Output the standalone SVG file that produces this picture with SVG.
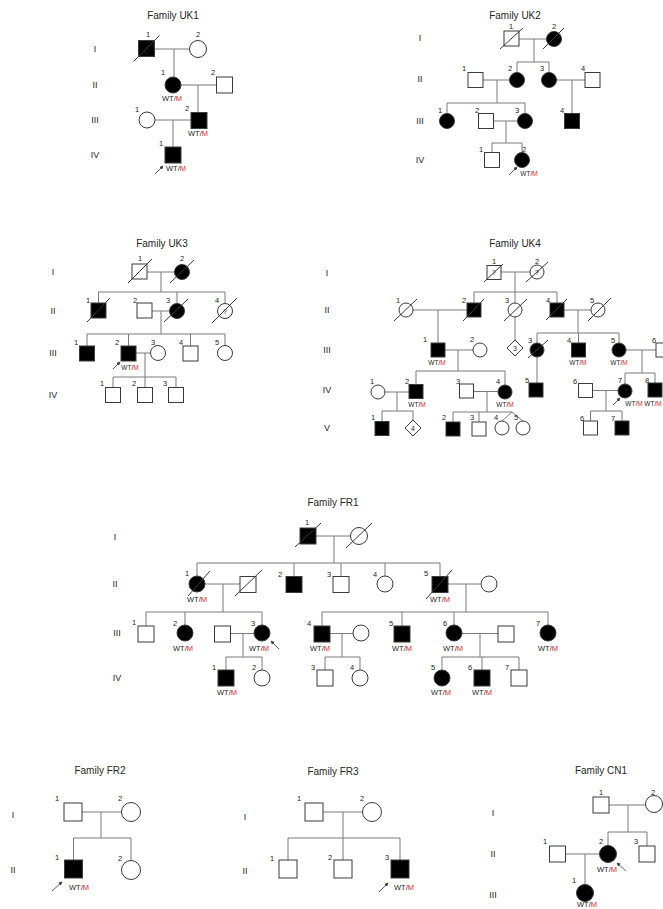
<svg xmlns="http://www.w3.org/2000/svg" width="663" height="909" viewBox="0 0 663 909">
<style>
text{font-family:"Liberation Sans",Arial,sans-serif;text-anchor:middle;dominant-baseline:central;fill:#262626}
.t{font-size:10px}
.g{font-size:9px}
.n{font-size:7.5px}
.w{font-size:7.5px}
.w2{font-size:6.5px}
.q{font-size:7px}
.r{fill:#e3261f}
.u{fill:#fff;stroke:#3a3a3a;stroke-width:1}
.a{fill:#000;stroke:#3a3a3a;stroke-width:1}
.d{stroke:#3a3a3a;stroke-width:1}
.c path{fill:none;stroke:#7a7a7a;stroke-width:1}
.p{stroke:#3a3a3a;stroke-width:0.8;marker-end:url(#ah)}
</style>
<defs>
<marker id="ah" viewBox="0 0 6 6" refX="5" refY="3" markerWidth="4" markerHeight="4" orient="auto" markerUnits="userSpaceOnUse">
<path d="M0,0 L6,3 L0,6 z" fill="#3a3a3a"/>
</marker>
</defs>
<rect width="663" height="909" fill="#fff"/>

<!-- Titles and generation labels -->
<g id="titles">
<text class="t" x="173" y="15">Family UK1</text>
<text class="t" x="515" y="15">Family UK2</text>
<text class="t" x="162" y="243">Family UK3</text>
<text class="t" x="515" y="243">Family UK4</text>
<text class="t" x="333" y="502">Family FR1</text>
<text class="t" x="100" y="770">Family FR2</text>
<text class="t" x="333" y="771">Family FR3</text>
<text class="t" x="601" y="770">Family CN1</text>
</g>
<g id="generations">
<text class="g" x="95" y="49">I</text><text class="g" x="95" y="85">II</text><text class="g" x="95" y="120">III</text><text class="g" x="95" y="155">IV</text>
<text class="g" x="420" y="38">I</text><text class="g" x="420" y="79">II</text><text class="g" x="420" y="121">III</text><text class="g" x="420" y="160">IV</text>
<text class="g" x="53" y="272">I</text><text class="g" x="53" y="311">II</text><text class="g" x="53" y="353">III</text><text class="g" x="53" y="395">IV</text>
<text class="g" x="327" y="273">I</text><text class="g" x="327" y="310">II</text><text class="g" x="327" y="350">III</text><text class="g" x="327" y="390">IV</text><text class="g" x="327" y="428">V</text>
<text class="g" x="115" y="537">I</text><text class="g" x="115" y="584">II</text><text class="g" x="117" y="633">III</text><text class="g" x="117" y="678">IV</text>
<text class="g" x="13" y="815">I</text><text class="g" x="13" y="870">II</text>
<text class="g" x="245" y="817">I</text><text class="g" x="245" y="871">II</text>
<text class="g" x="493" y="813">I</text><text class="g" x="493" y="854">II</text><text class="g" x="493" y="895">III</text>
</g>

<!-- Connectors -->
<g id="connectors" class="c">
<!-- UK1 -->
<path d="M154.5,49 H189.5 M174,49 V77 M181,85 H216.5 M198,85 V112.5 M155,120 H191 M173,120 V147"/>
<!-- UK2 -->
<path d="M519,39 H546.5 M534,39 V62 M517,62 H549 M517,62 V72.5 M549,62 V72.5 M483,80 H509.5 M497,80 V103 M447,103 H525 M447,103 V113.5 M525,103 V113.5 M556.5,80 H585 M572,80 V113.5 M493.5,121 H517.5 M506,121 V143 M492,143 H522 M492,143 V152.5 M522,143 V152.5"/>
<!-- UK3 -->
<path d="M147,272 H174.5 M161,272 V292 M98.5,292 H225 M98.5,292 V303 M177,292 V303.5 M225,292 V303.5 M152,311 H169.5 M161,311 V334 M87,334 H225 M87,334 V346 M128.5,334 V346 M190.5,334 V346 M225,334 V345.5 M136,353 H150.5 M145,353 V377 M113,377 H176 M113,377 V387.5 M145,377 V387.5 M176,377 V387.5"/>
<!-- UK4 -->
<path d="M501,272 H530 M515,272 V292 M474,292 H557 M474,292 V303 M515,292 V303 M557,292 V303 M413,310 H467 M438,310 V343 M515,317 V340 M564,310 H591 M578,310 V333 M537,333 H619 M537,333 V343 M578.5,333 V343 M619,333 V343 M445,350 H473 M458,350 V371 M416,371 H505 M416,371 V384.5 M505,371 V385 M385,392 H409 M397,392 V411 M382,411 H413 M382,411 V421.5 M413,411 V420 M473.5,391.5 H498 M487,392 V412 M453,412 H512 M453,412 V422 M479,412 V422 M512,412 L502,421 M512,412 L523,421 M537,357 V383 M626,350 H656 M642,350 V373 M625,373 H655 M625,373 V384 M655,373 V383 M592.5,390.5 H618 M606,390.5 V411 M590.5,411 H622 M590.5,411 V421 M622,411 V421"/>
<!-- FR1 -->
<path d="M316,536 H350.5 M334,536 V563 M197,563 H440 M197,563 V576 M294,563 V576.5 M341,563 V576.5 M385,563 V576 M440,563 V576.5 M205,584 H240 M223,584 V612 M146,612 H262 M146,612 V626 M185,612 V625 M262,612 V625 M230.5,633.5 H254 M243,633.5 V657 M226,657 H262 M226,657 V670 M262,657 V670 M448,584 H480.5 M466,584 V612 M322,612 H548 M322,612 V626 M402,612 V626 M454,612 V625 M548,612 V625 M330,633.5 H353 M342,633.5 V657 M325,657 H360 M325,657 V670 M360,657 V670 M462,633.5 H498 M480,633.5 V657 M442,657 H519 M442,657 V670 M482,657 V670 M519,657 V670"/>
<!-- FR2 -->
<path d="M82,812 H121.5 M101,812 V838 M73.5,838 H131 M73.5,838 V860 M131,838 V860.5"/>
<!-- FR3 -->
<path d="M323,812 H362.5 M343,812 V838 M288,838 H400 M288,838 V860 M343,838 V860 M400,838 V860"/>
<!-- CN1 -->
<path d="M609,805 H645.5 M628,805 V832 M608,832 H647 M608,832 V845.5 M647,832 V846 M566,854 H599.5 M585,854 V884.5"/>
</g>

<!-- ===== UK1 ===== -->
<g id="uk1-I-1"><rect class="a" x="138.5" y="40.5" width="16" height="16"/><line class="d" x1="133.5" y1="61.5" x2="159.5" y2="35.5"/><text class="n" x="148" y="34">1</text></g>
<g id="uk1-I-2"><circle class="u" cx="198" cy="49" r="8.5"/><text class="n" x="198" y="34">2</text></g>
<g id="uk1-II-1"><circle class="a" cx="173" cy="85" r="8"/><text class="n" x="163" y="72">1</text><text class="w" x="172" y="98">WT/<tspan class="r">M</tspan></text></g>
<g id="uk1-II-2"><rect class="u" x="216.5" y="77" width="16" height="16"/><text class="n" x="213" y="72">2</text></g>
<g id="uk1-III-1"><circle class="u" cx="147" cy="120" r="8"/><text class="n" x="137" y="109">1</text></g>
<g id="uk1-III-2"><rect class="a" x="191" y="112.5" width="16" height="16"/><text class="n" x="187" y="108">2</text><text class="w" x="198" y="133">WT/<tspan class="r">M</tspan></text></g>
<g id="uk1-IV-1"><rect class="a" x="165" y="147" width="16" height="16"/><text class="n" x="161" y="143">1</text><text class="w" x="176" y="168">WT/<tspan class="r">M</tspan></text><line class="p" x1="155" y1="174" x2="163" y2="166"/></g>

<!-- ===== UK2 ===== -->
<g id="uk2-I-1"><rect class="u" x="504" y="31" width="15" height="15"/><line class="d" x1="500" y1="49" x2="523" y2="28"/><text class="n" x="511" y="26">1</text></g>
<g id="uk2-I-2"><circle class="a" cx="554" cy="39" r="7.5"/><line class="d" x1="543" y1="49" x2="564" y2="28"/><text class="n" x="554" y="26">2</text></g>
<g id="uk2-II-1"><rect class="u" x="468" y="72.5" width="15" height="15"/><text class="n" x="464" y="68">1</text></g>
<g id="uk2-II-2"><circle class="a" cx="517" cy="80" r="7.5"/><text class="n" x="510" y="68">2</text></g>
<g id="uk2-II-3"><circle class="a" cx="549" cy="80" r="7.5"/><text class="n" x="542" y="68">3</text></g>
<g id="uk2-II-4"><rect class="u" x="585" y="72.5" width="15" height="15"/><text class="n" x="583" y="68">4</text></g>
<g id="uk2-III-1"><circle class="a" cx="447" cy="121" r="7.5"/><text class="n" x="440" y="110">1</text></g>
<g id="uk2-III-2"><rect class="u" x="478.5" y="113.5" width="15" height="15"/><text class="n" x="477" y="110">2</text></g>
<g id="uk2-III-3"><circle class="a" cx="525" cy="121" r="7.5"/><text class="n" x="517" y="110">3</text></g>
<g id="uk2-III-4"><rect class="a" x="564.5" y="113.5" width="15" height="15"/><text class="n" x="562" y="110">4</text></g>
<g id="uk2-IV-1"><rect class="u" x="484.5" y="152.5" width="15" height="15"/><text class="n" x="481" y="149">1</text></g>
<g id="uk2-IV-2"><circle class="a" cx="522" cy="160" r="7.5"/><text class="n" x="524" y="149">2</text><text class="w2" x="529" y="173">WT/<tspan class="r">M</tspan></text><line class="p" x1="509" y1="175" x2="517" y2="167"/></g>

<!-- ===== UK3 ===== -->
<g id="uk3-I-1"><rect class="u" x="132" y="264" width="15" height="15"/><line class="d" x1="128" y1="283" x2="152" y2="259"/><text class="n" x="140" y="258">1</text></g>
<g id="uk3-I-2"><circle class="a" cx="182" cy="272" r="7.5"/><line class="d" x1="170" y1="283" x2="194" y2="260"/><text class="n" x="182" y="258">2</text></g>
<g id="uk3-II-1"><rect class="a" x="91" y="303" width="15" height="15"/><line class="d" x1="87" y1="322" x2="110" y2="298"/><text class="n" x="88" y="300">1</text></g>
<g id="uk3-II-2"><rect class="u" x="137" y="303" width="15" height="15"/><text class="n" x="135" y="300">2</text></g>
<g id="uk3-II-3"><circle class="a" cx="177" cy="311" r="7.5"/><line class="d" x1="164" y1="322" x2="188" y2="299"/><text class="n" x="168" y="300">3</text></g>
<g id="uk3-II-4"><circle class="u" cx="225" cy="311" r="7.5"/><text class="q" x="225" y="311">?</text><line class="d" x1="212" y1="323" x2="237" y2="298"/><text class="n" x="217" y="300">4</text></g>
<g id="uk3-III-1"><rect class="a" x="79.5" y="346" width="15" height="15"/><text class="n" x="76" y="342">1</text></g>
<g id="uk3-III-2"><rect class="a" x="121" y="346" width="15" height="15"/><text class="n" x="117" y="342">2</text><text class="w2" x="130" y="367">WT/<tspan class="r">M</tspan></text><line class="p" x1="113" y1="369" x2="120" y2="362"/></g>
<g id="uk3-III-3"><circle class="u" cx="158" cy="353" r="7.5"/><text class="n" x="153" y="342">3</text></g>
<g id="uk3-III-4"><rect class="u" x="183" y="346" width="15" height="15"/><text class="n" x="181" y="342">4</text></g>
<g id="uk3-III-5"><circle class="u" cx="225" cy="353" r="7.5"/><text class="n" x="217" y="342">5</text></g>
<g id="uk3-IV-1"><rect class="u" x="105.5" y="387.5" width="15" height="15"/><text class="n" x="102" y="383">1</text></g>
<g id="uk3-IV-2"><rect class="u" x="137.5" y="387.5" width="15" height="15"/><text class="n" x="134" y="383">2</text></g>
<g id="uk3-IV-3"><rect class="u" x="168.5" y="387.5" width="15" height="15"/><text class="n" x="165" y="383">3</text></g>

<!-- ===== UK4 ===== -->
<g id="uk4-I-1"><rect class="u" x="487" y="265.5" width="14" height="14"/><text class="q" x="494" y="272.5">?</text><line class="d" x1="484" y1="282" x2="503" y2="264"/><text class="n" x="494" y="261">1</text></g>
<g id="uk4-I-2"><circle class="u" cx="537" cy="272" r="7"/><text class="q" x="537" y="272">?</text><line class="d" x1="526" y1="282" x2="548" y2="262"/><text class="n" x="537" y="261">2</text></g>
<g id="uk4-II-1"><circle class="u" cx="406" cy="310" r="7"/><line class="d" x1="394" y1="321" x2="417" y2="299"/><text class="n" x="398" y="300">1</text></g>
<g id="uk4-II-2"><rect class="a" x="467" y="303" width="14" height="14"/><line class="d" x1="463" y1="321" x2="484" y2="299"/><text class="n" x="464" y="300">2</text></g>
<g id="uk4-II-3"><circle class="u" cx="515" cy="310" r="7"/><line class="d" x1="504" y1="321" x2="527" y2="299"/><text class="n" x="507" y="300">3</text></g>
<g id="uk4-II-4"><rect class="a" x="550" y="303" width="14" height="14"/><line class="d" x1="546" y1="320" x2="567" y2="299"/><text class="n" x="548" y="300">4</text></g>
<g id="uk4-II-5"><circle class="u" cx="598" cy="310" r="7"/><line class="d" x1="588" y1="321" x2="611" y2="298"/><text class="n" x="592" y="300">5</text></g>
<g id="uk4-III-3d"><polygon class="u" points="515,340 523,348 515,356 507,348"/><text class="q" x="515" y="348">3</text></g>
<g id="uk4-III-1"><rect class="a" x="431" y="343" width="14" height="14"/><text class="n" x="425" y="339">1</text><text class="w2" x="437" y="362">WT/<tspan class="r">M</tspan></text></g>
<g id="uk4-III-2"><circle class="u" cx="480" cy="350" r="7"/><text class="n" x="472" y="339">2</text></g>
<g id="uk4-III-3"><circle class="a" cx="537" cy="350" r="7"/><line class="d" x1="528" y1="358" x2="548" y2="340"/><text class="n" x="530" y="340">3</text></g>
<g id="uk4-III-4"><rect class="a" x="571.5" y="343" width="14" height="14"/><text class="n" x="569" y="340">4</text><text class="w2" x="578" y="362">WT/<tspan class="r">M</tspan></text></g>
<g id="uk4-III-5"><circle class="a" cx="619" cy="350" r="7"/><text class="n" x="613" y="340">5</text><text class="w2" x="619" y="362">WT/<tspan class="r">M</tspan></text></g>
<g id="uk4-III-6"><rect class="u" x="656" y="343" width="14" height="14"/><text class="n" x="654" y="340">6</text></g>
<g id="uk4-IV-1"><circle class="u" cx="378" cy="392" r="7"/><text class="n" x="372" y="381">1</text></g>
<g id="uk4-IV-2"><rect class="a" x="409" y="384.5" width="14" height="14"/><text class="n" x="407" y="381">2</text><text class="w2" x="417" y="404">WT/<tspan class="r">M</tspan></text></g>
<g id="uk4-IV-3"><rect class="u" x="459.5" y="384" width="14" height="14"/><text class="n" x="458" y="381">3</text></g>
<g id="uk4-IV-4"><circle class="a" cx="505" cy="392" r="7"/><text class="n" x="498" y="381">4</text><text class="w2" x="505" y="404">WT/<tspan class="r">M</tspan></text></g>
<g id="uk4-IV-5"><rect class="a" x="529" y="383" width="14" height="14"/><text class="n" x="527" y="380">5</text></g>
<g id="uk4-IV-6"><rect class="u" x="578.5" y="383.5" width="14" height="14"/><text class="n" x="575" y="381">6</text></g>
<g id="uk4-IV-7"><circle class="a" cx="625" cy="391" r="7"/><text class="n" x="620" y="380">7</text><text class="w2" x="634" y="403">WT/<tspan class="r">M</tspan></text><line class="p" x1="613" y1="405" x2="620" y2="398"/></g>
<g id="uk4-IV-8"><rect class="a" x="648" y="383" width="14" height="14"/><text class="n" x="647" y="380">8</text><text class="w2" x="653" y="403">WT/<tspan class="r">M</tspan></text></g>
<g id="uk4-V-1"><rect class="a" x="375" y="421.5" width="14" height="14"/><text class="n" x="373" y="417">1</text></g>
<g id="uk4-V-4d"><polygon class="u" points="413,420 421,428 413,436 405,428"/><text class="q" x="413" y="428">4</text></g>
<g id="uk4-V-2"><rect class="a" x="446" y="422" width="14" height="14"/><text class="n" x="444" y="417">2</text></g>
<g id="uk4-V-3"><rect class="u" x="472" y="422" width="14" height="14"/><text class="n" x="472" y="417">3</text></g>
<g id="uk4-V-4"><circle class="u" cx="502" cy="428" r="7"/><text class="n" x="496" y="417">4</text></g>
<g id="uk4-V-5"><circle class="u" cx="523" cy="428" r="7"/><text class="n" x="516" y="417">5</text></g>
<g id="uk4-V-6"><rect class="u" x="583.5" y="421" width="14" height="14"/><text class="n" x="582" y="418">6</text></g>
<g id="uk4-V-7"><rect class="a" x="615" y="421" width="14" height="14"/><text class="n" x="613" y="418">7</text></g>

<!-- ===== FR1 ===== -->
<g id="fr1-I-1"><rect class="a" x="300" y="528" width="16" height="16"/><line class="d" x1="295" y1="547" x2="321" y2="523"/><text class="n" x="307" y="522">1</text></g>
<g id="fr1-I-2"><circle class="u" cx="359" cy="536" r="8.5"/><line class="d" x1="346" y1="548" x2="372" y2="523"/></g>
<g id="fr1-II-1"><circle class="a" cx="197" cy="584" r="8"/><line class="d" x1="188" y1="596" x2="210" y2="571"/><text class="n" x="187" y="573">1</text><text class="w" x="197" y="599">WT/<tspan class="r">M</tspan></text></g>
<g id="fr1-II-1s"><rect class="u" x="240" y="576.5" width="16" height="16"/><line class="d" x1="235" y1="596" x2="262" y2="570"/></g>
<g id="fr1-II-2"><rect class="a" x="286" y="576.5" width="16" height="16"/><text class="n" x="280" y="574">2</text></g>
<g id="fr1-II-3"><rect class="u" x="333" y="576.5" width="16" height="16"/><text class="n" x="329" y="574">3</text></g>
<g id="fr1-II-4"><circle class="u" cx="385" cy="584" r="8"/><text class="n" x="375" y="574">4</text></g>
<g id="fr1-II-5"><rect class="a" x="432" y="576.5" width="16" height="16"/><line class="d" x1="426" y1="599" x2="452" y2="570"/><text class="n" x="426" y="573">5</text><text class="w" x="440" y="599">WT/<tspan class="r">M</tspan></text></g>
<g id="fr1-II-5s"><circle class="u" cx="489" cy="584" r="8"/></g>
<g id="fr1-III-1"><rect class="u" x="138" y="626" width="16" height="16"/><text class="n" x="134" y="622">1</text></g>
<g id="fr1-III-2"><circle class="a" cx="185" cy="633" r="8"/><text class="n" x="175" y="623">2</text><text class="w" x="183" y="648">WT/<tspan class="r">M</tspan></text></g>
<g id="fr1-III-3s"><rect class="u" x="214.5" y="626" width="16" height="16"/></g>
<g id="fr1-III-3"><circle class="a" cx="262" cy="633" r="8"/><text class="n" x="253" y="623">3</text><text class="w" x="259" y="648">WT/<tspan class="r">M</tspan></text><line class="p" x1="279" y1="649" x2="271" y2="641"/></g>
<g id="fr1-IV-1"><rect class="a" x="218" y="670" width="16" height="16"/><text class="n" x="214" y="667">1</text><text class="w" x="227" y="692">WT/<tspan class="r">M</tspan></text></g>
<g id="fr1-IV-2"><circle class="u" cx="262" cy="678" r="8"/><text class="n" x="254" y="667">2</text></g>
<g id="fr1-III-4"><rect class="a" x="314" y="626" width="16" height="16"/><text class="n" x="309" y="623">4</text><text class="w" x="320" y="648">WT/<tspan class="r">M</tspan></text></g>
<g id="fr1-III-4s"><circle class="u" cx="361" cy="633" r="8"/></g>
<g id="fr1-IV-3"><rect class="u" x="317" y="670" width="16" height="16"/><text class="n" x="313" y="667">3</text></g>
<g id="fr1-IV-4"><circle class="u" cx="360" cy="678" r="8"/><text class="n" x="352" y="667">4</text></g>
<g id="fr1-III-5"><rect class="a" x="394" y="626" width="16" height="16"/><text class="n" x="391" y="623">5</text><text class="w" x="402" y="648">WT/<tspan class="r">M</tspan></text></g>
<g id="fr1-III-6"><circle class="a" cx="454" cy="633" r="8"/><text class="n" x="445" y="623">6</text><text class="w" x="453" y="648">WT/<tspan class="r">M</tspan></text></g>
<g id="fr1-III-6s"><rect class="u" x="498" y="626" width="16" height="16"/></g>
<g id="fr1-IV-5"><circle class="a" cx="442" cy="678" r="8"/><text class="n" x="433" y="667">5</text><text class="w" x="441" y="692">WT/<tspan class="r">M</tspan></text></g>
<g id="fr1-IV-6"><rect class="a" x="474" y="670" width="16" height="16"/><text class="n" x="470" y="667">6</text><text class="w" x="482" y="692">WT/<tspan class="r">M</tspan></text></g>
<g id="fr1-IV-7"><rect class="u" x="511" y="670" width="16" height="16"/><text class="n" x="507" y="667">7</text></g>
<g id="fr1-III-7"><circle class="a" cx="548" cy="633" r="8"/><text class="n" x="538" y="623">7</text><text class="w" x="548" y="648">WT/<tspan class="r">M</tspan></text></g>

<!-- ===== FR2 ===== -->
<g id="fr2-I-1"><rect class="u" x="64" y="803" width="18" height="18"/><text class="n" x="57" y="798">1</text></g>
<g id="fr2-I-2"><circle class="u" cx="131" cy="812" r="9.5"/><text class="n" x="120" y="798">2</text></g>
<g id="fr2-II-1"><rect class="a" x="64.5" y="860" width="18" height="18"/><text class="n" x="57" y="857">1</text><text class="w" x="79" y="887">WT/<tspan class="r">M</tspan></text><line class="p" x1="52" y1="891" x2="62" y2="882"/></g>
<g id="fr2-II-2"><circle class="u" cx="131" cy="870" r="9.5"/><text class="n" x="120" y="858">2</text></g>

<!-- ===== FR3 ===== -->
<g id="fr3-I-1"><rect class="u" x="305" y="803" width="18" height="18"/><text class="n" x="299" y="798">1</text></g>
<g id="fr3-I-2"><circle class="u" cx="372" cy="812" r="9.5"/><text class="n" x="362" y="798">2</text></g>
<g id="fr3-II-1"><rect class="u" x="279" y="860" width="18" height="18"/><text class="n" x="272" y="858">1</text></g>
<g id="fr3-II-2"><rect class="u" x="334" y="860" width="18" height="18"/><text class="n" x="330" y="857">2</text></g>
<g id="fr3-II-3"><rect class="a" x="391" y="860" width="18" height="18"/><text class="n" x="387" y="857">3</text><text class="w" x="404" y="887">WT/<tspan class="r">M</tspan></text><line class="p" x1="379" y1="892" x2="388" y2="883"/></g>

<!-- ===== CN1 ===== -->
<g id="cn1-I-1"><rect class="u" x="593" y="797" width="16" height="16"/><text class="n" x="601" y="792">1</text></g>
<g id="cn1-I-2"><circle class="u" cx="654" cy="804" r="8.5"/><text class="n" x="653" y="792">2</text></g>
<g id="cn1-II-1"><rect class="u" x="549.5" y="846" width="16" height="16"/><text class="n" x="545" y="841">1</text></g>
<g id="cn1-II-2"><circle class="a" cx="608" cy="854" r="8.5"/><text class="n" x="601" y="841">2</text><text class="w" x="607" y="869">WT/<tspan class="r">M</tspan></text><line class="p" x1="626" y1="871" x2="617" y2="863"/></g>
<g id="cn1-II-3"><rect class="u" x="639" y="846" width="16" height="16"/><text class="n" x="636" y="841">3</text></g>
<g id="cn1-III-1"><circle class="a" cx="585" cy="893" r="8.5"/><text class="n" x="574" y="880">1</text><text class="w" x="587" y="904">WT/<tspan class="r">M</tspan></text></g>
</svg>
